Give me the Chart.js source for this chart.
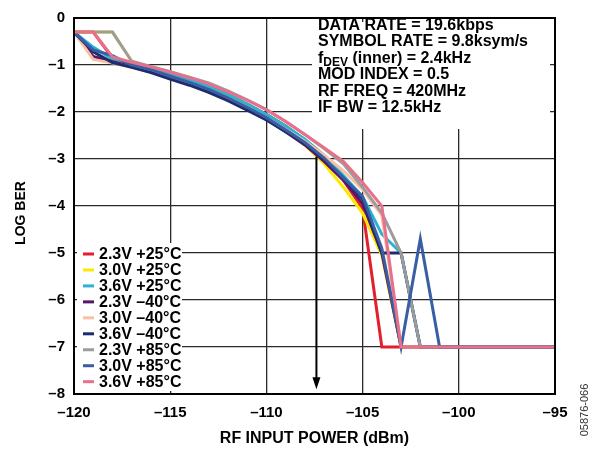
<!DOCTYPE html>
<html>
<head>
<meta charset="utf-8">
<script src="https://cdn.jsdelivr.net/npm/chart.js@4/dist/chart.umd.min.js"></script>
<style>
  html, body { margin: 0; padding: 0; background: #fff; }
  canvas { display: block; }
</style>
</head>
<body>
<canvas id="chart" width="597" height="450"></canvas>
<script>
// ============================================================
// Data
// ============================================================
const rfPower = [-120, -119, -118, -117, -116, -115, -114, -113, -112, -111,
                 -110, -109, -108, -107, -106, -105, -104, -103, -102, -101, -95];

const ber23v25  = [-0.3, -0.3, -0.85, -0.98, -1.08, -1.2, -1.32, -1.46, -1.63, -1.83, -2.05, -2.3, -2.6, -2.95, -3.45, -4.05, -7, -7, -7, -7, -7];
const ber30v25  = [-0.3, -0.3, -0.3, -0.92, -1.06, -1.2, -1.33, -1.48, -1.66, -1.87, -2.1, -2.38, -2.7, -3.1, -3.6, -4.15, -5.05, -7, -7, -7, -7];
const ber36v25  = [-0.3, -0.62, -0.88, -0.98, -1.08, -1.2, -1.32, -1.46, -1.63, -1.83, -2.05, -2.3, -2.58, -2.92, -3.35, -3.8, -4.6, -5.0, -7, -7, -7];
const ber23vM40 = [-0.3, -0.82, -0.93, -1.03, -1.13, -1.27, -1.4, -1.55, -1.73, -1.93, -2.15, -2.42, -2.7, -3.05, -3.45, -3.95, -5.0, -7, -7, -7, -7];
const ber30vM40 = [-0.3, -0.88, -0.96, -1.05, -1.15, -1.28, -1.41, -1.56, -1.73, -1.92, -2.12, -2.37, -2.62, -2.92, -3.25, -3.65, -4.2, -7, -7, -7, -7];
const ber36vM40 = [-0.3, -0.72, -0.95, -1.05, -1.16, -1.3, -1.43, -1.58, -1.76, -1.96, -2.17, -2.42, -2.67, -3.0, -3.4, -3.85, -5.0, -5.0, -7, -7, -7];
const ber23v85  = [-0.3, -0.3, -0.3, -0.92, -1.03, -1.14, -1.26, -1.38, -1.55, -1.74, -1.95, -2.2, -2.48, -2.78, -3.1, -3.6, -4.15, -5.0, -7, -7, -7];
const ber30v85  = [-0.3, -0.68, -0.8, -1.0, -1.1, -1.24, -1.37, -1.52, -1.7, -1.9, -2.12, -2.38, -2.65, -2.98, -3.4, -3.8, -4.9, -7, -4.7, -7, -7];
const ber36v85  = [-0.3, -0.3, -0.83, -0.94, -1.04, -1.15, -1.27, -1.4, -1.57, -1.75, -1.95, -2.2, -2.48, -2.76, -3.05, -3.5, -4.0, -7, -7, -7, -7];

const seriesLabels = ["2.3V +25°C", "3.0V +25°C", "3.6V +25°C",
                      "2.3V –40°C", "3.0V –40°C", "3.6V –40°C",
                      "2.3V +85°C", "3.0V +85°C", "3.6V +85°C"];
const seriesValues = [ber23v25, ber30v25, ber36v25, ber23vM40, ber30vM40, ber36vM40, ber23v85, ber30v85, ber36v85];
const seriesColors = ["#E31E2D", "#FFE800", "#2CB2D4", "#5A1766", "#FAC0A2", "#1E2B6D", "#9C9C9C", "#3A5EA4", "#E8708B"];

const xTicks = [-120, -115, -110, -105, -100, -95];
const yTicks = [0, -1, -2, -3, -4, -5, -6, -7, -8];

const conditions = ["DATA RATE = 19.6kbps", "SYMBOL RATE = 9.8ksym/s", "f|DEV| (inner) = 2.4kHz",
                    "MOD INDEX = 0.5", "RF FREQ = 420MHz", "IF BW = 12.5kHz"];

// sensitivity marker (dBm, log BER)
const arrowX = -107.4;
const arrowTop = -2.95;
const arrowTip = -7.9;

// ============================================================
// Helpers
// ============================================================
const FONT = '"Liberation Sans", Arial, Helvetica, sans-serif';
const dash = (v) => String(v).replace("-", "\u2013");

// last series ends up on top, as in the reference
const datasets = seriesLabels.map((label, i) => ({
  label,
  data: rfPower.map((x, j) => ({ x, y: seriesValues[i][j] })),
  borderColor: seriesColors[i],
  backgroundColor: seriesColors[i],
  borderWidth: 3,
  pointRadius: 0,
  tension: 0,
  fill: false,
  order: seriesLabels.length - i,
}));

// white patches under the legend / conditions text, then text, arrow, titles
const decorPlugin = {
  id: "decor",
  beforeDatasetsDraw(chart) {
    const { ctx, chartArea: a } = chart;
    ctx.save();
    ctx.fillStyle = "#fff";
    ctx.fillRect(a.left + 3, 243, 105, a.bottom - 246);
    ctx.fillRect(312, a.top + 4, a.right - 317, 107);
    ctx.restore();
  },
  afterDatasetsDraw(chart) {
    const { ctx, chartArea: a, scales } = chart;
    ctx.save();

    // frame
    ctx.strokeStyle = "#000";
    ctx.lineWidth = 2;
    ctx.strokeRect(a.left, a.top, a.right - a.left, a.bottom - a.top);

    // legend
    ctx.font = `bold 16px ${FONT}`;
    ctx.textBaseline = "middle";
    ctx.textAlign = "left";
    seriesLabels.forEach((lab, i) => {
      const y = 254 + i * 15.96;
      ctx.fillStyle = seriesColors[i];
      ctx.fillRect(83, y - 1.5, 11, 3);
      ctx.fillStyle = "#000";
      ctx.fillText(lab, 99, y + 1);
    });

    // test conditions
    conditions.forEach((line, i) => {
      const y = 25.5 + i * 16.5;
      const parts = line.split("|");
      let x = 318;
      parts.forEach((p, k) => {
        if (k === 1) {
          ctx.font = `bold 12px ${FONT}`;
          ctx.fillText(p, x, y + 4);
        } else {
          ctx.font = `bold 16px ${FONT}`;
          ctx.fillText(p, x, y);
        }
        x += ctx.measureText(p).width;
      });
    });

    // sensitivity arrow
    const ax = scales.x.getPixelForValue(arrowX);
    const ay0 = scales.y.getPixelForValue(arrowTop);
    const ay1 = scales.y.getPixelForValue(arrowTip);
    ctx.strokeStyle = "#000";
    ctx.fillStyle = "#000";
    ctx.lineWidth = 2;
    ctx.beginPath();
    ctx.moveTo(ax, ay0);
    ctx.lineTo(ax, ay1 - 10);
    ctx.stroke();
    ctx.beginPath();
    ctx.moveTo(ax - 4, ay1 - 12);
    ctx.lineTo(ax + 4, ay1 - 12);
    ctx.lineTo(ax, ay1);
    ctx.closePath();
    ctx.fill();
    ctx.restore();
  },
  afterDraw(chart) {
    const { ctx, chartArea: a } = chart;
    ctx.save();
    ctx.fillStyle = "#000";
    ctx.font = `bold 16px ${FONT}`;
    ctx.textAlign = "center";
    ctx.textBaseline = "middle";
    ctx.fillText("RF INPUT POWER (dBm)", (a.left + a.right) / 2, 439);

    ctx.font = `bold 14px ${FONT}`;
    ctx.translate(21, 213);
    ctx.rotate(-Math.PI / 2);
    ctx.fillText("LOG BER", 0, 0);
    ctx.restore();

    ctx.save();
    ctx.fillStyle = "#333";
    ctx.font = `11px ${FONT}`;
    ctx.textAlign = "center";
    ctx.textBaseline = "middle";
    ctx.translate(585, 410);
    ctx.rotate(-Math.PI / 2);
    ctx.fillText("05876-066", 0, 0);
    ctx.restore();
  },
};

// ============================================================
// Chart
// ============================================================
new Chart(document.getElementById("chart"), {
  type: "line",
  data: { datasets },
  plugins: [decorPlugin],
  options: {
    responsive: false,
    animation: false,
    events: [],
    layout: { padding: { top: 10, right: 42, left: 0, bottom: 0 } },
    plugins: { legend: { display: false }, tooltip: { enabled: false } },
    scales: {
      x: {
        type: "linear",
        min: -120,
        max: -95,
        afterFit: (s) => { s.height = 56; },
        afterBuildTicks: (s) => { s.ticks = xTicks.map((v) => ({ value: v })); },
        ticks: {
          color: "#000",
          padding: 10,
          font: { family: FONT, size: 15, weight: "bold" },
          callback: (v) => dash(v),
          maxRotation: 0,
        },
        grid: { color: "#2a2a2a", lineWidth: 1.3, drawTicks: false },
        border: { color: "#000", width: 2 },
      },
      y: {
        min: -8,
        max: 0,
        afterFit: (s) => { s.width = 74; },
        afterBuildTicks: (s) => { s.ticks = yTicks.map((v) => ({ value: v })); },
        ticks: {
          color: "#000",
          padding: 9,
          font: { family: FONT, size: 15, weight: "bold" },
          callback: (v) => dash(v),
        },
        grid: { color: "#2a2a2a", lineWidth: 1.3, drawTicks: false },
        border: { color: "#000", width: 2 },
      },
    },
  },
});
</script>
</body>
</html>
